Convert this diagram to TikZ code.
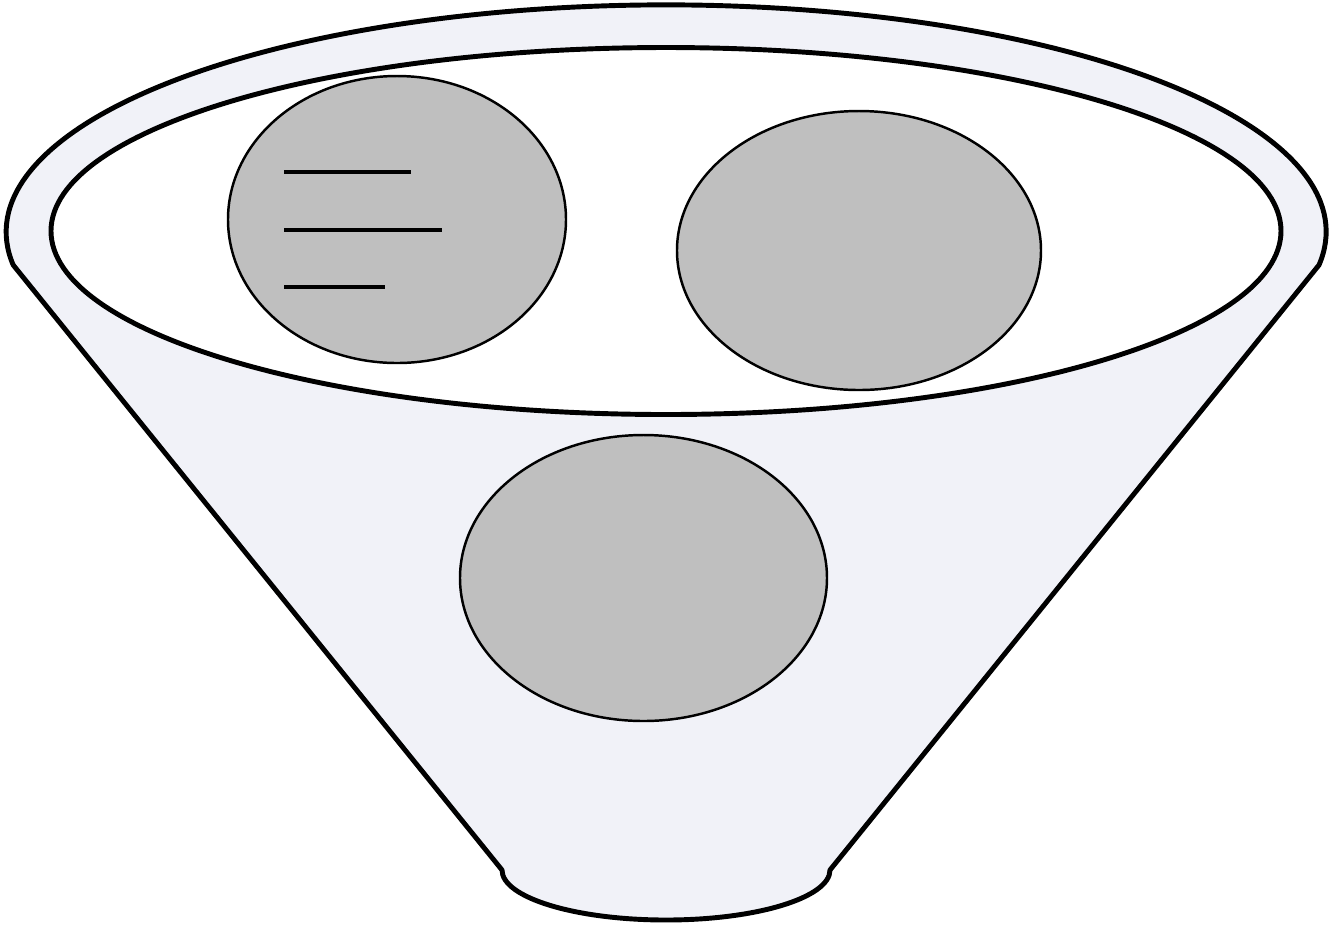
\documentclass[tikz,border=0pt]{standalone}
\usepackage{tikz}
\definecolor{funnelfill}{HTML}{F1F2F8}
\definecolor{blobgray}{HTML}{BFBFBF}

\begin{document}
\begin{tikzpicture}[x=0.01cm,y=-0.01cm,
    rim/.style={line width=1.4pt,draw=black},
    blob/.style={line width=0.7pt,draw=black,fill=blobgray},
    note/.style={line width=0.95pt}]
  \useasboundingbox (0,0) rectangle (1332,929);
  % funnel body
  \draw[rim,fill=funnelfill,line join=round]
      (1319,265) arc[start angle=-8.4,end angle=188.4,x radius=660,y radius=-227]
      -- (502,870) arc[start angle=180,end angle=360,x radius=164,y radius=-50]
      -- cycle;
  % opening
  \draw[rim,fill=white] (666,231) ellipse[x radius=615,y radius=183.5];
  % items
  \draw[blob] (397,219.5) ellipse[x radius=169,y radius=143.5];
  \draw[blob] (859,250.5) ellipse[x radius=182,y radius=139.5];
  \draw[blob] (643.5,578) ellipse[x radius=183.5,y radius=143];
  \foreach \y/\len in {172/127,230/158,287/101}{
    \draw[note] (284,\y) -- ++(\len,0);
  }
\end{tikzpicture}
\end{document}
